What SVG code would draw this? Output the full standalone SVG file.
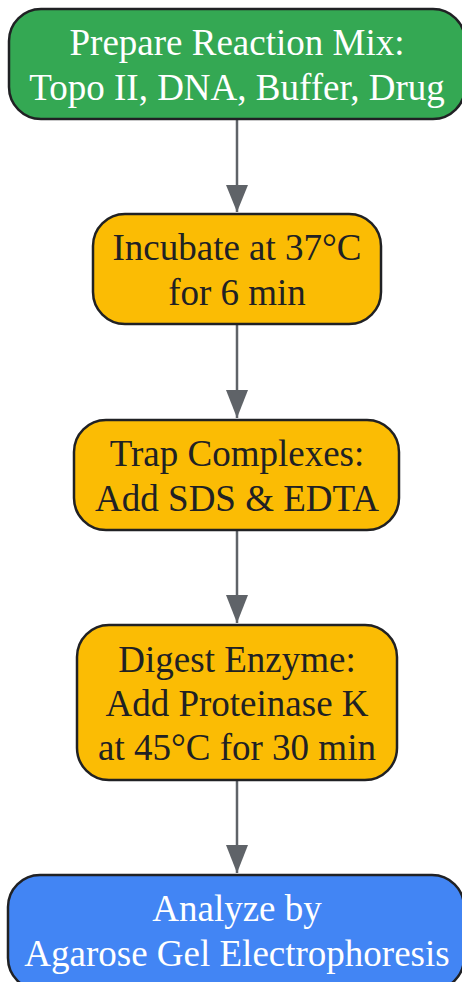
<svg xmlns="http://www.w3.org/2000/svg" width="462" height="982" viewBox="0 0 462 982">
<defs>
<style>
.n{stroke:#202124;stroke-width:2.5}
.t{font-family:"Liberation Serif",serif;font-size:37px;text-anchor:middle}
.w{fill:#ffffff}
.d{fill:#202124}
.e{stroke:#5f6368;stroke-width:2.5;fill:none}
.h{fill:#5f6368}
</style>
</defs>
<rect width="462" height="982" fill="#ffffff"/>
<g id="edges">
<path class="e" d="M237,119 V212"/>
<path class="h" d="M226,185 L248,185 L237,212 z"/>
<path class="e" d="M237,324 V418"/>
<path class="h" d="M226,390 L248,390 L237,418 z"/>
<path class="e" d="M237,530 V623"/>
<path class="h" d="M226,595 L248,595 L237,623 z"/>
<path class="e" d="M237,780 V873"/>
<path class="h" d="M226,845 L248,845 L237,873 z"/>
</g>
<g id="n1">
<rect class="n" x="9" y="9" width="456" height="110" rx="32" fill="#34a853"/>
<text class="t w" x="237" y="55">Prepare Reaction Mix:</text>
<text class="t w" x="237" y="100">Topo II, DNA, Buffer, Drug</text>
</g>
<g id="n2">
<rect class="n" x="93" y="214" width="288" height="110" rx="32" fill="#fbbc04"/>
<text class="t d" x="237" y="260">Incubate at 37°C</text>
<text class="t d" x="237" y="305">for 6 min</text>
</g>
<g id="n3">
<rect class="n" x="74" y="420" width="325" height="110" rx="32" fill="#fbbc04"/>
<text class="t d" x="237" y="466">Trap Complexes:</text>
<text class="t d" x="237" y="511">Add SDS &amp; EDTA</text>
</g>
<g id="n4">
<rect class="n" x="77" y="625" width="320" height="155" rx="32" fill="#fbbc04"/>
<text class="t d" x="237" y="672">Digest Enzyme:</text>
<text class="t d" x="237" y="716">Add Proteinase K</text>
<text class="t d" x="237" y="760">at 45°C for 30 min</text>
</g>
<g id="n5">
<rect class="n" x="8" y="875" width="456" height="115" rx="32" fill="#4285f4"/>
<text class="t w" x="237" y="921">Analyze by</text>
<text class="t w" x="237" y="966">Agarose Gel Electrophoresis</text>
</g>
</svg>
